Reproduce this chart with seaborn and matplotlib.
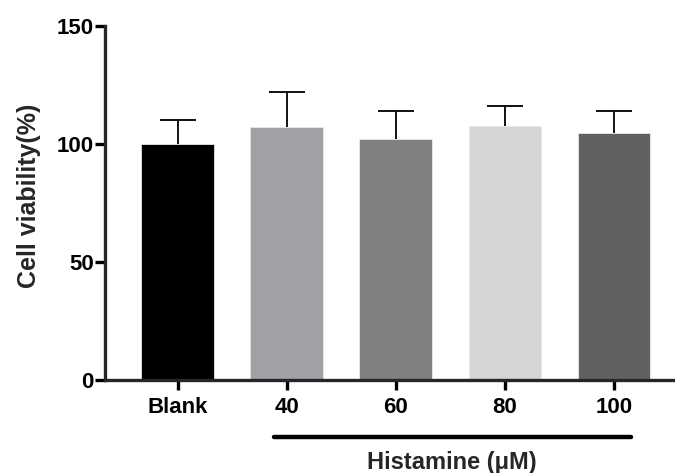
import numpy as np
import pandas as pd
import seaborn as sns
import matplotlib.pyplot as plt

groups = ['Blank', '40', '60', '80', '100']
viability = [100.0, 107.0, 102.2, 107.8, 104.5]
sd = [10.0, 15.0, 12.0, 8.5, 9.3]
colors = ['#000000', '#a1a1a5', '#808080', '#d5d5d5', '#616161']

sns.set_theme(style='ticks')
plt.rcParams['font.family'] = ['Liberation Sans', 'DejaVu Sans']
plt.rcParams['font.weight'] = 'bold'

df = pd.DataFrame({'group': groups, 'viability': viability, 'sd': sd})
df['top'] = df['viability'] + df['sd']

fig = plt.figure(figsize=(6.75, 4.73), dpi=100)
ax = fig.add_axes([0.1556, 0.1966, 0.8444, 0.7484])

sns.barplot(data=df, x='group', y='viability', hue='group', palette=colors,
            order=groups, hue_order=groups, width=0.665, errorbar=None,
            legend=False, edgecolor='#e8e8e8', linewidth=0.6, ax=ax)

# upper error bars only (stem + top cap)
xs = np.arange(len(groups))
ax.vlines(xs, df['viability'], df['top'], color='#111111', lw=1.4, zorder=3)
ax.hlines(df['top'], xs - 0.165, xs + 0.165, color='#111111', lw=1.4, zorder=3)

ax.set_ylim(0, 150)
ax.set_xlim(-0.665, 4.56)
ax.set_yticks([0, 50, 100, 150])
sns.despine(ax=ax)
for s in ['left', 'bottom']:
    ax.spines[s].set_linewidth(2.4)
ax.tick_params(axis='both', width=2.4, length=7, labelsize=16, colors='black')
for lab in ax.get_xticklabels() + ax.get_yticklabels():
    lab.set_fontweight('bold')
ax.tick_params(axis='y', pad=1)
ax.tick_params(axis='x', pad=5)

ax.set_xlabel('')
ax.set_ylabel('Cell viability(%)', fontsize=18, fontweight='bold')
ax.yaxis.set_label_coords(-0.112, 0.52)

# bracket under the histamine concentrations
ax.plot([0.885, 4.16], [-24, -24], color='black', lw=3.2,
        solid_capstyle='round', clip_on=False)
ax.text(2.51, -35, 'Histamine (μM)', ha='center', va='center',
        fontsize=17, fontweight='bold')

fig.savefig('out.png', dpi=100)
